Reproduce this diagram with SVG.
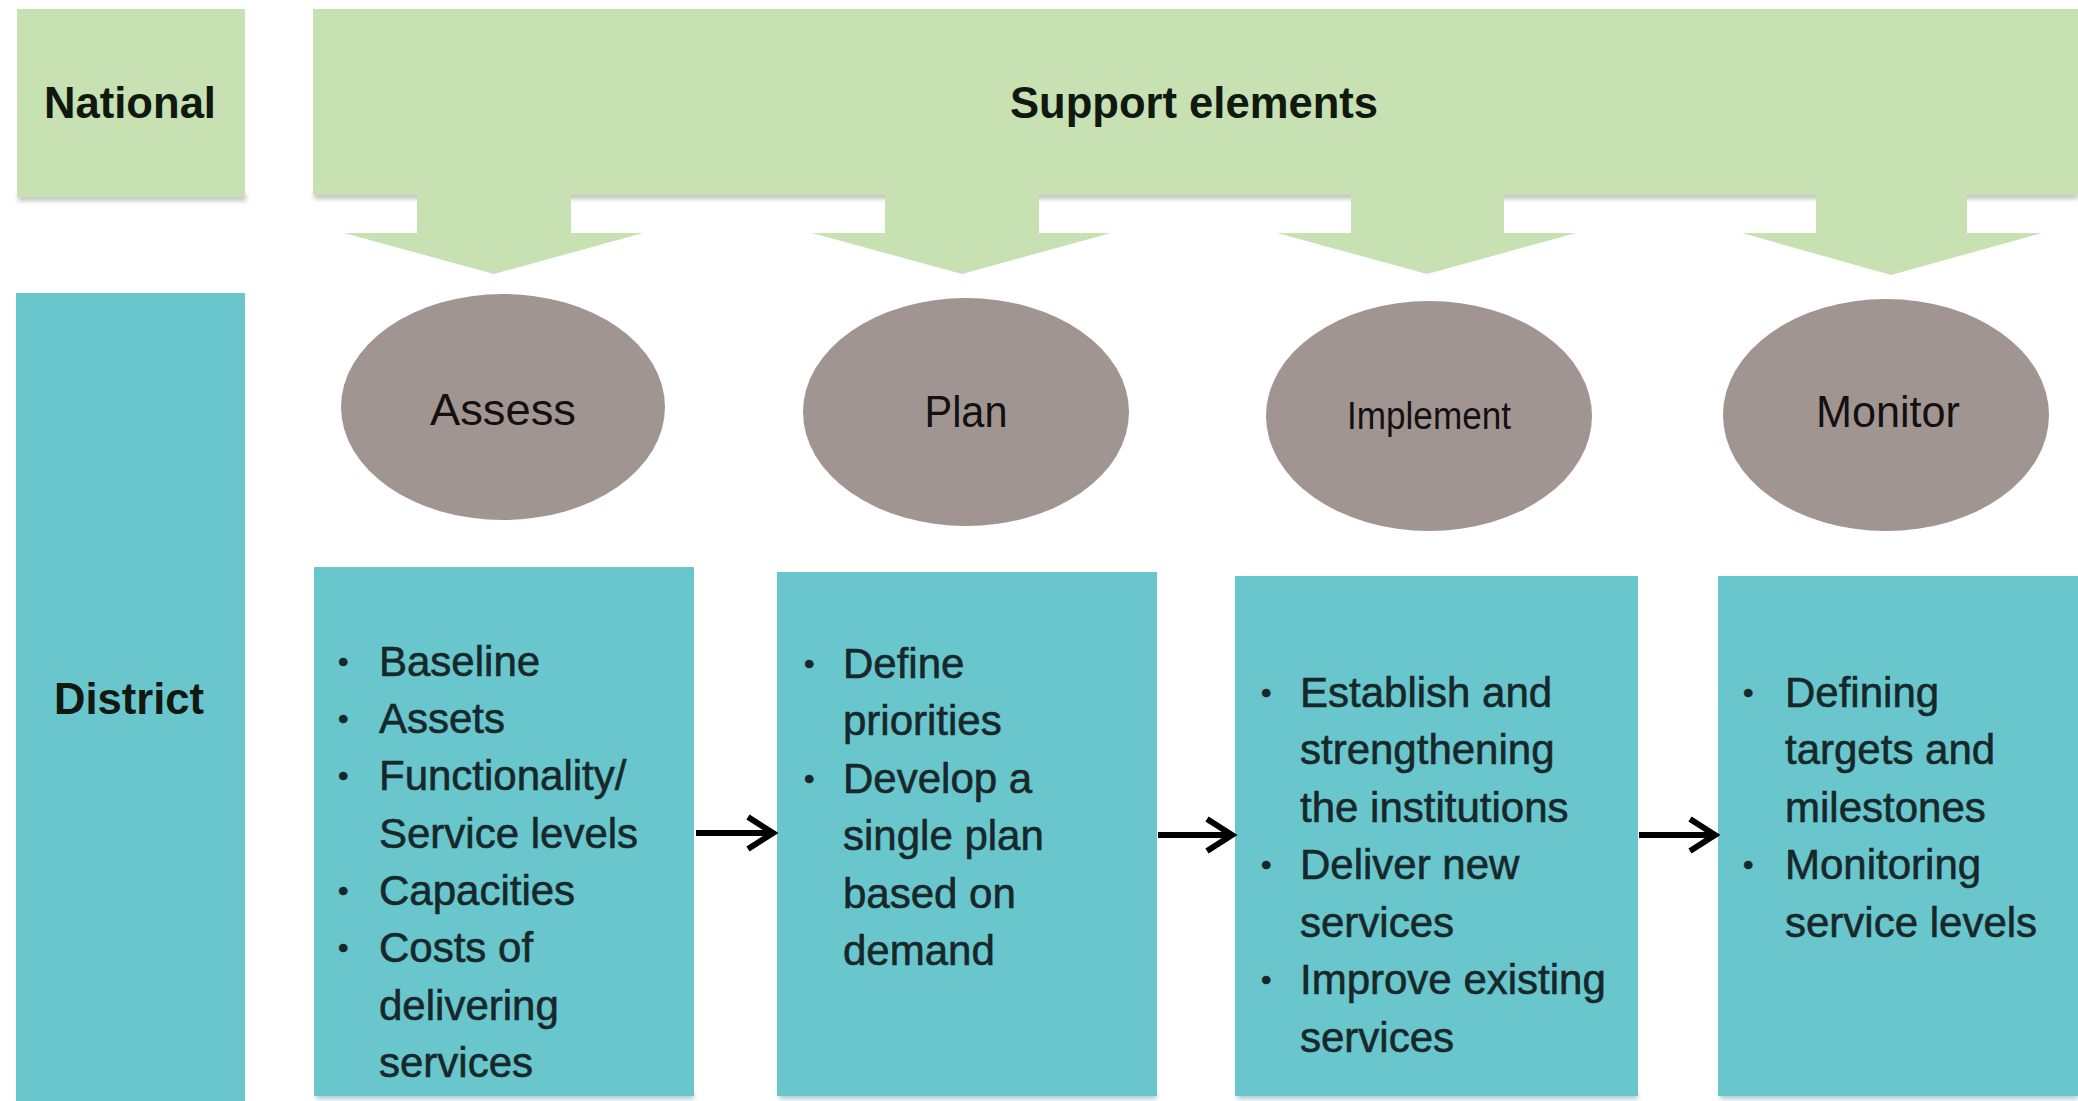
<svg xmlns="http://www.w3.org/2000/svg" width="2078" height="1101" viewBox="0 0 2078 1101">
<style>
.green{fill:#c7e1b2}
.teal{fill:#69c6cc}
.oval{fill:#a19592}
.hdr{font-family:"Liberation Sans",Arial,sans-serif;font-weight:bold;font-size:45px;fill:#101810}
.lbl{font-family:"Liberation Sans",Arial,sans-serif;font-size:44px;fill:#141010}
.body{font-family:"Liberation Sans",Arial,sans-serif;font-size:42px;fill:#17282a;stroke:#17282a;stroke-width:0.6}
.bul{font-size:30px}
.shadow{fill:#8f9a8a;opacity:0.55}
.tshadow{fill:#4f9ea3;opacity:0.5}
.conn{stroke:#000;stroke-width:6;fill:none}
</style>
<defs>
<filter id="blur" x="-5%" y="-50%" width="110%" height="200%"><feGaussianBlur stdDeviation="2"/></filter>
<marker id="chev" viewBox="0 0 34 40" refX="30" refY="20" markerWidth="34" markerHeight="40" markerUnits="userSpaceOnUse" orient="auto" overflow="visible">
<path d="M5,4 L30,20 L5,36" fill="none" stroke="#000" stroke-width="6" stroke-linejoin="miter"/>
</marker>
</defs>
<rect width="2078" height="1101" fill="#ffffff"/>

<g id="national">
<rect class="shadow" x="18" y="194" width="228" height="7" filter="url(#blur)"/>
<rect class="green" x="17" y="9" width="228" height="188"/>
<text class="hdr" x="130" y="118" text-anchor="middle" textLength="172" lengthAdjust="spacingAndGlyphs">National</text>
</g>

<g id="support">
<rect class="shadow" x="314" y="191" width="1764" height="8" filter="url(#blur)"/>
<rect class="green" x="313" y="9" width="1765" height="186"/>
<polygon class="green" points="417,194 571,194 571,233 643,233 494,274 344,233 417,233"/>
<polygon class="green" points="885,194 1039,194 1039,233 1111,233 962,274 812,233 885,233"/>
<polygon class="green" points="1351,194 1504,194 1504,233 1576,233 1427,274 1277,233 1351,233"/>
<polygon class="green" points="1816,194 1967,194 1967,233 2042,233 1891,275 1742,233 1816,233"/>
<text class="hdr" x="1194" y="118" text-anchor="middle" textLength="368" lengthAdjust="spacingAndGlyphs">Support elements</text>
</g>

<g id="district">
<rect class="teal" x="16" y="293" width="229" height="808"/>
<text class="hdr" x="129" y="714" text-anchor="middle" textLength="150" lengthAdjust="spacingAndGlyphs">District</text>
</g>

<g id="assess">
<ellipse class="oval" cx="503" cy="407" rx="162" ry="113"/>
<text class="lbl" x="503" y="425" text-anchor="middle" textLength="146" lengthAdjust="spacingAndGlyphs">Assess</text>
</g>
<g id="plan">
<ellipse class="oval" cx="966" cy="412" rx="163" ry="114"/>
<text class="lbl" x="966" y="427" text-anchor="middle" textLength="83" lengthAdjust="spacingAndGlyphs">Plan</text>
</g>
<g id="implement">
<ellipse class="oval" cx="1429" cy="416" rx="163" ry="115"/>
<text class="lbl" x="1429" y="429" text-anchor="middle" style="font-size:39px" textLength="164" lengthAdjust="spacingAndGlyphs">Implement</text>
</g>
<g id="monitor">
<ellipse class="oval" cx="1886" cy="415" rx="163" ry="116"/>
<text class="lbl" x="1888" y="427" text-anchor="middle" textLength="144" lengthAdjust="spacingAndGlyphs">Monitor</text>
</g>

<g id="box-assess">
<rect class="tshadow" x="316" y="1093" width="378" height="6" filter="url(#blur)"/>
<rect class="teal" x="314" y="567" width="380" height="529"/>
<text class="body">
<tspan class="bul" x="338" y="672">•</tspan><tspan x="379" y="676">Baseline</tspan>
<tspan class="bul" x="338" y="729">•</tspan><tspan x="379" y="733">Assets</tspan>
<tspan class="bul" x="338" y="786">•</tspan><tspan x="379" y="790">Functionality/</tspan>
<tspan x="379" y="848">Service levels</tspan>
<tspan class="bul" x="338" y="901">•</tspan><tspan x="379" y="905">Capacities</tspan>
<tspan class="bul" x="338" y="958">•</tspan><tspan x="379" y="962">Costs of</tspan>
<tspan x="379" y="1020">delivering</tspan>
<tspan x="379" y="1077">services</tspan>
</text>
</g>

<g id="box-plan">
<rect class="tshadow" x="779" y="1093" width="378" height="6" filter="url(#blur)"/>
<rect class="teal" x="777" y="572" width="380" height="524"/>
<text class="body">
<tspan class="bul" x="804" y="674">•</tspan><tspan x="843" y="678">Define</tspan>
<tspan x="843" y="735">priorities</tspan>
<tspan class="bul" x="804" y="789">•</tspan><tspan x="843" y="793">Develop a</tspan>
<tspan x="843" y="850">single plan</tspan>
<tspan x="843" y="908">based on</tspan>
<tspan x="843" y="965">demand</tspan>
</text>
</g>

<g id="box-implement">
<rect class="tshadow" x="1237" y="1093" width="401" height="6" filter="url(#blur)"/>
<rect class="teal" x="1235" y="576" width="403" height="520"/>
<text class="body">
<tspan class="bul" x="1261" y="703">•</tspan><tspan x="1300" y="707">Establish and</tspan>
<tspan x="1300" y="764">strengthening</tspan>
<tspan x="1300" y="822">the institutions</tspan>
<tspan class="bul" x="1261" y="875">•</tspan><tspan x="1300" y="879">Deliver new</tspan>
<tspan x="1300" y="937">services</tspan>
<tspan class="bul" x="1261" y="990">•</tspan><tspan x="1300" y="994">Improve existing</tspan>
<tspan x="1300" y="1052">services</tspan>
</text>
</g>

<g id="box-monitor">
<rect class="tshadow" x="1720" y="1093" width="358" height="6" filter="url(#blur)"/>
<rect class="teal" x="1718" y="576" width="360" height="520"/>
<text class="body">
<tspan class="bul" x="1743" y="703">•</tspan><tspan x="1785" y="707">Defining</tspan>
<tspan x="1785" y="764">targets and</tspan>
<tspan x="1785" y="822">milestones</tspan>
<tspan class="bul" x="1743" y="875">•</tspan><tspan x="1785" y="879">Monitoring</tspan>
<tspan x="1785" y="937">service levels</tspan>
</text>
</g>

<g id="connectors">
<line class="conn" x1="696" y1="833" x2="773" y2="833" marker-end="url(#chev)"/>
<line class="conn" x1="1158" y1="835" x2="1232" y2="835" marker-end="url(#chev)"/>
<line class="conn" x1="1639" y1="835" x2="1715" y2="835" marker-end="url(#chev)"/>
</g>
</svg>
